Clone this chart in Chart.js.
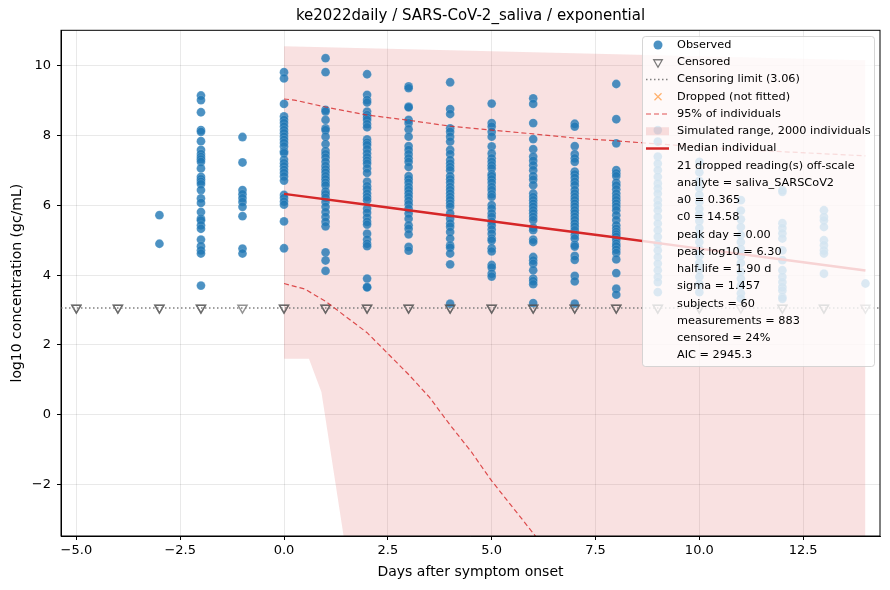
<!DOCTYPE html>
<html>
<head>
<meta charset="utf-8">
<script src="https://cdn.jsdelivr.net/npm/chart.js@4.4.1/dist/chart.umd.min.js"></script>
<style>
  html, body { margin: 0; padding: 0; background: #fff; }
  #wrap { width: 890px; height: 590px; position: relative; }
</style>
</head>
<body>
<div id="wrap"><canvas id="chart"></canvas></div>
<script>
// days after onset and log10 readings per day
const obsDays = [-3, -2, -1, 0, 1, 2, 3, 4, 5, 6, 7, 8, 9, 10, 11, 12, 13, 14];
const obsValues = [
  [5.72, 4.90],
  [9.15, 9.02, 8.67, 8.16, 8.11, 7.84, 7.59, 7.47, 7.39, 7.32, 7.25, 7.06, 6.82, 6.75, 6.68, 6.61, 6.44, 6.20, 6.07, 5.81, 5.62, 5.57, 5.43, 5.33, 5.02, 4.83, 4.71, 4.62, 3.70],
  [7.96, 7.23, 6.44, 6.32, 6.21, 6.10, 5.96, 5.69, 4.76, 4.62],
  [9.82, 9.64, 8.91, 8.55, 8.45, 8.36, 8.26, 8.16, 8.07, 7.97, 7.88, 7.79, 7.69, 7.55, 7.50, 7.31, 7.21, 7.12, 7.02, 6.93, 6.83, 6.71, 6.30, 6.21, 6.11, 6.02, 5.54, 4.77],
  [10.22, 9.82, 8.74, 8.69, 8.45, 8.21, 8.16, 7.97, 7.76, 7.56, 7.47, 7.37, 7.25, 7.13, 7.03, 6.94, 6.84, 6.75, 6.65, 6.57, 6.40, 6.32, 6.22, 6.10, 5.96, 5.81, 5.67, 5.53, 5.40, 4.65, 4.42, 4.12],
  [9.76, 9.17, 9.02, 8.95, 8.69, 8.59, 8.52, 8.45, 8.33, 8.24, 7.89, 7.80, 7.73, 7.61, 7.49, 7.38, 7.28, 7.20, 7.06, 6.93, 6.68, 6.55, 6.46, 6.34, 6.24, 6.15, 5.91, 5.79, 5.65, 5.53, 5.45, 5.19, 5.02, 4.90, 4.83, 3.90, 3.66, 3.65],
  [9.41, 9.36, 8.83, 8.81, 8.45, 8.36, 8.18, 7.97, 7.70, 7.59, 7.47, 7.35, 7.25, 7.10, 6.84, 6.75, 6.65, 6.53, 6.44, 6.34, 6.24, 6.13, 6.03, 5.91, 5.77, 5.62, 5.43, 5.33, 5.17, 4.81, 4.70],
  [9.53, 8.76, 8.62, 8.21, 8.11, 7.97, 7.83, 7.59, 7.47, 7.30, 7.20, 7.10, 7.01, 6.84, 6.75, 6.65, 6.53, 6.44, 6.34, 6.24, 6.15, 6.05, 5.96, 5.77, 5.62, 5.48, 5.39, 5.24, 5.05, 4.85, 4.79, 4.62, 4.31, 3.18],
  [8.92, 8.36, 8.26, 8.11, 7.97, 7.69, 7.49, 7.35, 7.25, 7.15, 7.06, 6.90, 6.84, 6.75, 6.65, 6.53, 6.44, 6.32, 6.24, 6.01, 5.91, 5.77, 5.67, 5.53, 5.43, 5.31, 5.19, 5.05, 4.99, 4.77, 4.68, 4.29, 4.22, 4.04, 3.96],
  [9.07, 8.91, 8.36, 7.90, 7.61, 7.40, 7.28, 7.15, 7.01, 6.84, 6.74, 6.58, 6.34, 6.24, 6.15, 6.05, 5.96, 5.86, 5.77, 5.67, 5.58, 5.36, 5.29, 5.02, 4.95, 4.52, 4.42, 4.33, 4.14, 3.90, 3.83, 3.74, 3.20],
  [8.34, 8.26, 7.70, 7.47, 7.35, 7.25, 6.97, 6.89, 6.79, 6.68, 6.58, 6.44, 6.34, 6.24, 6.15, 6.05, 5.96, 5.86, 5.77, 5.67, 5.58, 5.48, 5.39, 5.29, 5.15, 5.05, 4.87, 4.82, 4.55, 4.44, 3.98, 3.82, 3.18],
  [9.48, 8.47, 7.78, 7.01, 6.92, 6.84, 6.65, 6.57, 6.46, 6.34, 6.24, 6.15, 6.05, 5.96, 5.86, 5.72, 5.58, 5.43, 5.33, 5.24, 5.17, 5.10, 5.01, 4.90, 4.83, 4.73, 4.64, 4.45, 4.06, 3.61, 3.44],
  [8.16, 7.83, 7.40, 7.20, 7.01, 6.82, 6.63, 6.49, 6.34, 6.15, 6.01, 5.86, 5.67, 5.48, 5.29, 5.10, 4.90, 4.71, 4.52, 4.33, 4.14, 3.95, 3.80, 3.51],
  [7.25, 6.95, 6.70, 6.50, 6.30, 6.10, 5.90, 5.75, 5.55, 5.35, 5.15, 4.95, 4.75, 4.55, 4.35, 4.15, 3.95, 3.75, 3.51],
  [6.15, 5.85, 5.60, 5.38, 5.15, 4.95, 4.75, 4.55, 4.35, 4.10, 3.90, 3.70, 3.48, 3.33],
  [6.44, 6.39, 5.49, 5.35, 5.20, 5.05, 4.71, 4.43, 4.14, 3.95, 3.80, 3.66, 3.56, 3.37, 3.32],
  [5.86, 5.67, 5.57, 5.38, 5.00, 4.86, 4.71, 4.62, 4.04],
  [3.76]
];

// one entry per censored reading (they stack at the limit)
const censoredDays = [-5, -5, -4, -4, -3, -3, -2, -2, -1, 0, 0, 1, 1, 2, 2, 3, 3, 4, 4, 5, 5, 6, 6, 7, 7, 8, 8, 9, 9, 10, 10, 11, 12, 12, 13, 13, 14];
const censorLimit = 3.06;

// simulated population: median, 95% band, full range
const medianDays = [0, 2, 4, 6, 8, 10, 12, 14];
const medianVals = [6.33, 6.02, 5.70, 5.39, 5.08, 4.76, 4.45, 4.13];

const upper95Days = [0, 0.25, 1, 2, 3, 4, 5, 6, 7, 8, 9, 10, 11, 12, 13, 14];
const upper95Vals = [9.05, 9.02, 8.82, 8.59, 8.44, 8.27, 8.16, 8.05, 7.93, 7.85, 7.76, 7.68, 7.60, 7.54, 7.48, 7.42];
const lower95Days = [0, 0.5, 1, 1.5, 2, 2.5, 3, 3.5, 4, 4.5, 5, 5.5, 6, 6.5, 7, 8];
const lower95Vals = [3.76, 3.60, 3.25, 2.80, 2.35, 1.75, 1.15, 0.50, -0.30, -1.05, -1.90, -2.65, -3.40, -4.20, -5.00, -6.60];

const rangeTopDays = [0, 4, 8, 14];
const rangeTopVals = [10.56, 10.45, 10.33, 10.16];
const rangeBottomDays = [0, 0.6, 0.9, 1.45, 2, 14];
const rangeBottomVals = [1.60, 1.60, 0.65, -3.60, -6.50, -6.50];

const xTickValues = [-5, -2.5, 0, 2.5, 5, 7.5, 10, 12.5];
const yTickValues = [-2, 0, 2, 4, 6, 8, 10];
const xMin = -5.37, xMax = 14.35, yMin = -3.48, yMax = 11.02;

const chartTitle = 'ke2022daily / SARS-CoV-2_saliva / exponential';
const xTitle = 'Days after symptom onset';
const yTitle = 'log10 concentration (gc/mL)';
const legendLabels = ['Observed', 'Censored', 'Censoring limit (3.06)', 'Dropped (not fitted)',
  '95% of individuals', 'Simulated range, 2000 individuals', 'Median individual'];
const fitNotes = ['21 dropped reading(s) off-scale', 'analyte = saliva_SARSCoV2', 'a0 = 0.365',
  'c0 = 14.58', 'peak day = 0.00', 'peak log10 = 6.30', 'half-life = 1.90 d', 'sigma = 1.457',
  'subjects = 60', 'measurements = 883', 'censored = 24%', 'AIC = 2945.3'];

const FONT = 'DejaVu Sans';
const BLUE = 'rgba(31,119,180,0.8)';
const RED = '#d62728';
const GREY_TRI = 'rgba(80,80,80,0.62)';

const zip = (xs, ys) => xs.map((x, i) => ({ x: x, y: ys[i] }));

const observedPts = [];
obsDays.forEach((d, i) => obsValues[i].forEach(v => observedPts.push({ x: d, y: v })));
const censoredPts = censoredDays.map(d => ({ x: d, y: censorLimit }));

const minus = s => s.replace('-', '\u2212');

// matplotlib-style legend drawn over the plot, plus the top/right spines
const overlay = {
  id: 'overlay',
  afterDraw(chart) {
    const ctx = chart.ctx;
    const a = chart.chartArea;
    ctx.save();
    ctx.strokeStyle = '#000';
    ctx.lineWidth = 1;
    ctx.strokeRect(a.left, a.top, a.right - a.left, a.bottom - a.top);

    const bx = 642, by = 36, bw = 232, bh = 330;
    ctx.beginPath();
    ctx.roundRect(bx + 0.5, by + 0.5, bw, bh, 3);
    ctx.fillStyle = 'rgba(255,255,255,0.8)';
    ctx.fill();
    ctx.strokeStyle = 'rgba(204,204,204,0.8)';
    ctx.stroke();

    const rows = legendLabels.concat(fitNotes);
    const hx = 646, hw = 23, mx = 658, tx = 677, y0 = 45, dy = 17.25;
    ctx.font = '11.3px "' + FONT + '"';
    ctx.textBaseline = 'middle';
    rows.forEach((label, i) => {
      ctx.fillStyle = '#000';
      ctx.fillText(label, tx, y0 + i * dy);
    });
    // handles
    let y = y0;
    ctx.fillStyle = BLUE;
    ctx.beginPath(); ctx.arc(mx, y, 4.5, 0, Math.PI * 2); ctx.fill();
    y += dy;
    ctx.strokeStyle = 'rgba(80,80,80,0.75)'; ctx.lineWidth = 1.3;
    ctx.beginPath(); ctx.moveTo(mx - 4.3, y - 2.5); ctx.lineTo(mx + 4.3, y - 2.5); ctx.lineTo(mx, y + 5); ctx.closePath(); ctx.stroke();
    y += dy;
    ctx.strokeStyle = 'gray'; ctx.lineWidth = 1.5; ctx.setLineDash([1.5, 2.5]);
    ctx.beginPath(); ctx.moveTo(hx, y); ctx.lineTo(hx + hw, y); ctx.stroke();
    y += dy;
    ctx.setLineDash([]);
    ctx.strokeStyle = 'rgba(255,127,14,0.6)'; ctx.lineWidth = 1.2;
    ctx.beginPath(); ctx.moveTo(mx - 3.5, y - 3.5); ctx.lineTo(mx + 3.5, y + 3.5);
    ctx.moveTo(mx + 3.5, y - 3.5); ctx.lineTo(mx - 3.5, y + 3.5); ctx.stroke();
    y += dy;
    ctx.strokeStyle = 'rgba(214,39,40,0.8)'; ctx.lineWidth = 1.2; ctx.setLineDash([5, 3]);
    ctx.beginPath(); ctx.moveTo(hx, y); ctx.lineTo(hx + hw, y); ctx.stroke();
    y += dy;
    ctx.setLineDash([]);
    ctx.fillStyle = 'rgba(214,39,40,0.14)';
    ctx.fillRect(hx, y - 4, hw, 8);
    y += dy;
    ctx.strokeStyle = RED; ctx.lineWidth = 2.5;
    ctx.beginPath(); ctx.moveTo(hx, y); ctx.lineTo(hx + hw, y); ctx.stroke();
    ctx.restore();
  }
};

const lineDefaults = { type: 'line', pointRadius: 0, fill: false, tension: 0 };

new Chart(document.getElementById('chart'), {
  type: 'scatter',
  data: {
    datasets: [
      Object.assign({}, lineDefaults, { label: 'range-bottom', data: zip(rangeBottomDays, rangeBottomVals), borderWidth: 0, borderColor: 'rgba(0,0,0,0)', order: 9 }),
      Object.assign({}, lineDefaults, { label: legendLabels[5], data: zip(rangeTopDays, rangeTopVals), borderWidth: 0, borderColor: 'rgba(0,0,0,0)', backgroundColor: 'rgba(214,39,40,0.14)', fill: '-1', order: 8 }),
      { label: legendLabels[0], data: observedPts, backgroundColor: BLUE, borderColor: 'rgba(255,255,255,0.3)', borderWidth: 0.5, pointRadius: 4.4, order: 6 },
      { label: legendLabels[1], data: censoredPts, pointStyle: 'triangle', rotation: 180, backgroundColor: 'rgba(0,0,0,0)', borderColor: GREY_TRI, borderWidth: 1.5, pointRadius: 5.2, order: 5 },
      Object.assign({}, lineDefaults, { label: legendLabels[2], data: [{ x: xMin, y: censorLimit }, { x: xMax, y: censorLimit }], borderColor: 'gray', borderWidth: 1.5, borderDash: [1.5, 2.5], order: 4 }),
      Object.assign({}, lineDefaults, { label: 'upper 95', data: zip(upper95Days, upper95Vals), borderColor: 'rgba(214,39,40,0.8)', borderWidth: 1.2, borderDash: [5, 3], order: 3 }),
      Object.assign({}, lineDefaults, { label: 'lower 95', data: zip(lower95Days, lower95Vals), borderColor: 'rgba(214,39,40,0.8)', borderWidth: 1.2, borderDash: [5, 3], order: 2 }),
      Object.assign({}, lineDefaults, { label: legendLabels[6], data: zip(medianDays, medianVals), borderColor: RED, borderWidth: 2.5, order: 1 })
    ]
  },
  options: {
    responsive: true,
    maintainAspectRatio: false,
    animation: false,
    events: [],
    layout: { padding: { left: 0, right: 10, top: 0, bottom: 0 } },
    plugins: {
      legend: { display: false },
      tooltip: { enabled: false },
      title: {
        display: true,
        fullSize: false,
        text: chartTitle,
        color: '#000',
        font: { family: FONT, size: 15, weight: 'normal' },
        padding: { top: 7, bottom: 5.3 }
      }
    },
    scales: {
      x: {
        type: 'linear',
        min: xMin,
        max: xMax,
        afterFit(scale) { scale.height = 54; },
        afterBuildTicks(scale) { scale.ticks = xTickValues.map(v => ({ value: v })); },
        ticks: {
          autoSkip: false, maxRotation: 0, padding: 3, color: '#000',
          font: { family: FONT, size: 13 },
          callback: v => minus(v.toFixed(1))
        },
        grid: { color: 'rgba(0,0,0,0.11)', lineWidth: 0.8, tickColor: '#000', tickLength: 4, tickWidth: 1 },
        border: { display: true, color: '#000', width: 1 },
        title: { display: true, text: xTitle, color: '#000', font: { family: FONT, size: 14 }, padding: { top: 0, bottom: 9.6 } }
      },
      y: {
        type: 'linear',
        min: yMin,
        max: yMax,
        afterFit(scale) { scale.width = 61; },
        afterBuildTicks(scale) { scale.ticks = yTickValues.map(v => ({ value: v })); },
        ticks: {
          autoSkip: false, padding: 6, color: '#000',
          font: { family: FONT, size: 13 },
          callback: v => minus(String(v))
        },
        grid: { color: 'rgba(0,0,0,0.11)', lineWidth: 0.8, tickColor: '#000', tickLength: 4, tickWidth: 1 },
        border: { display: true, color: '#000', width: 1 },
        title: { display: true, text: yTitle, color: '#000', font: { family: FONT, size: 14 }, padding: { top: 9, bottom: 0 } }
      }
    }
  },
  plugins: [overlay]
});
</script>
</body>
</html>
